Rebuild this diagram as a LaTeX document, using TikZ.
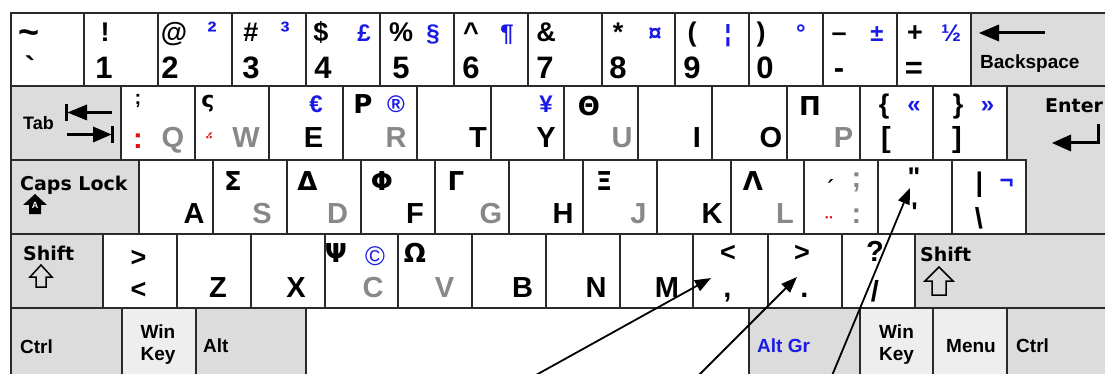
\documentclass[tikz,border=0pt]{standalone}
\usepackage{fontspec}
\setmainfont{Liberation Sans}
\newfontfamily\lbs{Liberation Sans}
\newfontfamily\dvs{DejaVu Sans}
\usetikzlibrary{arrows.meta}
\definecolor{kbgray}{HTML}{888888}
\definecolor{kbblue}{HTML}{1A1AE6}
\definecolor{kbred}{HTML}{E01010}
\definecolor{kfill}{HTML}{DCDCDC}
\definecolor{kfillb}{HTML}{EEEEEE}
\definecolor{kline}{HTML}{2A2A2A}
\newcommand\kb[5]{\draw[keyline,fill=#5] (#1,#2) rectangle (#3,#4);}
\begin{document}
\begin{tikzpicture}[x=1pt,y=-1pt,
 keyline/.style={draw=kline,line width=1.3pt},
 lb/.style={anchor=base,inner sep=0pt,font=\lbs\fontsize{29}{30}\selectfont\bfseries},
 dg/.style={anchor=base,inner sep=0pt,font=\lbs\fontsize{31}{32}\selectfont\bfseries},
 sy/.style={anchor=base,inner sep=0pt,font=\lbs\fontsize{27}{28}\selectfont\bfseries},
 gk/.style={anchor=base,inner sep=0pt,font=\dvs\fontsize{26}{28}\selectfont\bfseries},
 al/.style={anchor=base,inner sep=0pt,text=kbblue,font=\lbs\fontsize{24}{26}\selectfont\bfseries},
 sup/.style={anchor=base,inner sep=0pt,text=kbblue,font=\lbs\fontsize{28}{28}\selectfont\bfseries},
 sm/.style={anchor=base,inner sep=0pt,font=\lbs\fontsize{20}{20}\selectfont\bfseries},
 smg/.style={anchor=base,inner sep=0pt,font=\dvs\fontsize{20}{20}\selectfont\bfseries},
 gy/.style={text=kbgray},
 rd/.style={text=kbred},
 kn/.style={anchor=base west,inner sep=0pt,font=\lbs\fontsize{19}{20}\selectfont\bfseries},
 knc/.style={anchor=base,inner sep=0pt,font=\lbs\fontsize{19}{20}\selectfont\bfseries},
 dn/.style={anchor=base west,inner sep=0pt,font=\dvs\fontsize{19}{20}\selectfont\bfseries},
 pointer/.style={line width=1.8pt,-{Triangle[length=16pt,width=12pt]}},
 bar/.style={line width=3pt},
 outl/.style={line width=1.5pt,line join=miter},
]
\useasboundingbox (0,0) rectangle (1105,374);
\clip (0,0) rectangle (1105,374);
% row 1
\kb{11}{13}{84}{86}{white}\kb{84}{13}{158}{86}{white}\kb{158}{13}{232}{86}{white}
\kb{232}{13}{306}{86}{white}\kb{306}{13}{380}{86}{white}\kb{380}{13}{454}{86}{white}
\kb{454}{13}{528}{86}{white}\kb{528}{13}{602}{86}{white}\kb{602}{13}{675}{86}{white}
\kb{675}{13}{749}{86}{white}\kb{749}{13}{823}{86}{white}\kb{823}{13}{897}{86}{white}
\kb{897}{13}{971}{86}{white}\kb{971}{13}{1120}{86}{kfill}
% row 2
\kb{11}{86}{121}{160}{kfill}\kb{121}{86}{195}{160}{white}\kb{195}{86}{269}{160}{white}
\kb{269}{86}{343}{160}{white}\kb{343}{86}{417}{160}{white}\kb{417}{86}{491}{160}{white}
\kb{491}{86}{564}{160}{white}\kb{564}{86}{638}{160}{white}\kb{638}{86}{712}{160}{white}
\kb{712}{86}{787}{160}{white}\kb{787}{86}{860}{160}{white}\kb{860}{86}{933}{160}{white}
\kb{933}{86}{1007}{160}{white}
% row 3
\kb{11}{160}{139}{234}{kfill}\kb{139}{160}{213}{234}{white}\kb{213}{160}{287}{234}{white}
\kb{287}{160}{361}{234}{white}\kb{361}{160}{435}{234}{white}\kb{435}{160}{509}{234}{white}
\kb{509}{160}{583}{234}{white}\kb{583}{160}{657}{234}{white}\kb{657}{160}{731}{234}{white}
\kb{731}{160}{804}{234}{white}\kb{804}{160}{878}{234}{white}\kb{878}{160}{952}{234}{white}
\kb{952}{160}{1026}{234}{white}
\draw[keyline,fill=kfill] (1007,86) -- (1120,86) -- (1120,234) -- (1026,234) -- (1026,160) -- (1007,160) -- cycle;
% row 4
\kb{11}{234}{103}{308}{kfill}\kb{103}{234}{177}{308}{white}\kb{177}{234}{251}{308}{white}
\kb{251}{234}{325}{308}{white}\kb{325}{234}{398}{308}{white}\kb{398}{234}{472}{308}{white}
\kb{472}{234}{546}{308}{white}\kb{546}{234}{620}{308}{white}\kb{620}{234}{693}{308}{white}
\kb{693}{234}{768}{308}{white}\kb{768}{234}{842}{308}{white}\kb{842}{234}{915}{308}{white}
\kb{915}{234}{1120}{308}{kfill}
% row 5
\kb{11}{308}{122}{390}{kfill}\kb{122}{308}{196}{390}{kfillb}\kb{196}{308}{306}{390}{kfill}
\kb{306}{308}{749}{390}{white}\kb{749}{308}{860}{390}{kfill}\kb{860}{308}{933}{390}{kfillb}
\kb{933}{308}{1007}{390}{kfillb}\kb{1007}{308}{1120}{390}{kfill}

% ---- row 1 labels
\node[sy,font=\lbs\fontsize{36}{36}\selectfont\bfseries] (t0) at (29,45) {\textasciitilde};
\node[dg] (b0) at (30,79) {`};
\node[sy] (t1) at (105,42) {!};
\node[dg] (b1) at (104,79) {1};
\node[sy] (t2) at (174,42) {@};
\node[dg] (b2) at (170,79) {2};
\node[sup] (a2) at (212,42) {²};
\node[sy] (t3) at (251,42) {\#};
\node[dg] (b3) at (251,79) {3};
\node[sup] (a3) at (285,42) {³};
\node[sy] (t4) at (321,42) {\$};
\node[dg] (b4) at (323,79) {4};
\node[al] (a4) at (364,42) {£};
\node[sy] (t5) at (401,42) {\%};
\node[dg] (b5) at (401,79) {5};
\node[al] (a5) at (433,42) {§};
\node[sy] (t6) at (471,42) {\textasciicircum};
\node[dg] (b6) at (471,79) {6};
\node[al] (a6) at (507,42) {¶};
\node[sy] (t7) at (546,42) {\&};
\node[dg] (b7) at (545,79) {7};
\node[sy] (t8) at (618,42) {*};
\node[dg] (b8) at (618,79) {8};
\node[al] (a8) at (655,42) {¤};
\node[sy] (t9) at (692,42) {(};
\node[dg] (b9) at (692,79) {9};
\node[al] (a9) at (728,42) {¦};
\node[sy] (t10) at (761,42) {)};
\node[dg] (b10) at (765,79) {0};
\node[al] (a10) at (801,42) {°};
\node[sy] (t11) at (839,42) {–};
\node[dg] (b11) at (839,79) {-};
\node[al] (a11) at (877,42) {±};
\node[sy] (t12) at (915,42) {+};
\node[dg] (b12) at (914,79) {=};
\node[al] (a12) at (951,42) {½};
\node[kn] (bs) at (980,69) {Backspace};
\fill (979,33) -- (999,24.5) -- (999,41.5) -- cycle;
\draw[bar] (996,33) -- (1045,33);

% ---- row 2 labels
\node[kn,font=\lbs\fontsize{18}{18}\selectfont\bfseries] (tab) at (23,130) {Tab};
\draw[bar] (66,104) -- (66,121);
\fill (67.5,112.5) -- (87,104.5) -- (87,120.5) -- cycle;
\draw[bar] (85,112.5) -- (112,112.5);
\draw[bar] (67,134.5) -- (95,134.5);
\fill (111.5,134.5) -- (93,126.5) -- (93,142.5) -- cycle;
\draw[bar] (112,126) -- (112,143);
\node[sm] (q1) at (138,105) {;};
\node[lb,rd] (q2) at (138,149) {:};
\node[lb,gy] (q3) at (173,148) {Q};
\node[smg,font=\dvs\fontsize{22}{22}\selectfont\bfseries] (w1) at (208,108) {ς};
\node[smg,rd,font=\dvs\fontsize{18}{18}\selectfont\bfseries] (w2) at (209,151) {΅};
\node[lb,gy] (w3) at (246,148) {W};
\node[al] (e1) at (316,113) {€};
\node[lb] (e2) at (313.5,148) {E};
\node[gk] (r1) at (363,114) {Ρ};
\node[al] (r2) at (396,113) {®};
\node[lb,gy] (r3) at (396,148) {R};
\node[lb] (tT) at (478,148) {T};
\node[al] (y1) at (546,113) {¥};
\node[lb] (y2) at (546,148) {Y};
\node[gk] (u1) at (589,116) {Θ};
\node[lb,gy] (u2) at (622,148) {U};
\node[lb] (i1) at (697,148) {I};
\node[lb] (o1) at (771,148) {O};
\node[gk] (p1) at (810,116) {Π};
\node[lb,gy] (p2) at (843.5,148) {P};
\node[sy] (lbr1) at (884,114) {\{};
\node[al] (lbr2) at (914,113) {«};
\node[lb] (lbr3) at (886,148) {[};
\node[sy] (rbr1) at (958,114) {\}};
\node[al] (rbr2) at (987.5,113) {»};
\node[lb] (rbr3) at (957,148) {]};
\node[dn] (ent) at (1045,113) {Enter};
\draw[bar] (1098,124) -- (1098,144.5);
\draw[bar] (1099.5,143) -- (1068,143);
\fill (1052,143) -- (1071,134.5) -- (1071,151.5) -- cycle;

% ---- row 3 labels
\node[dn] (caps) at (20,190) {Caps Lock};
\fill (35,194) -- (47,205) -- (41,205) -- (41,214) -- (29,214) -- (29,205) -- (23,205) -- cycle;
\node[anchor=base,inner sep=0pt,text=white,font=\lbs\fontsize{9}{9}\selectfont\bfseries] (capsA) at (35,208) {A};
\node[lb] (aA) at (194,223) {A};
\node[gk] (s1) at (233,191) {Σ};
\node[lb,gy] (s2) at (262,223) {S};
\node[gk] (d1) at (307.5,191) {Δ};
\node[lb,gy] (d2) at (337.5,223) {D};
\node[gk] (f1) at (382,191) {Φ};
\node[lb] (f2) at (415,223) {F};
\node[gk] (g1) at (456,191) {Γ};
\node[lb,gy] (g2) at (491,223) {G};
\node[lb] (hH) at (563,223) {H};
\node[gk] (j1) at (604,191) {Ξ};
\node[lb,gy] (j2) at (638.5,223) {J};
\node[lb] (kK) at (712,223) {K};
\node[gk] (l1) at (753,191) {Λ};
\node[lb,gy] (l2) at (785,223) {L};
\node[smg] (sc1) at (829,196) {΄};
\node[lb,gy] (sc2) at (856.5,188) {;};
\node[sm,rd] (sc3) at (829,230) {¨};
\node[lb,gy] (sc4) at (856.5,223) {:};
\node[sy] (qt1) at (914,187) {"};
\node[sy] (qt2) at (914.5,222) {\textquotesingle};
\node[sy] (bsl1) at (979.5,192) {\textbar};
\node[al] (bsl2) at (1006.5,189) {¬};
\node[lb] (bsl3) at (979,229) {\textbackslash};

% ---- row 4 labels
\node[dn] (shl) at (23,260) {Shift};
\draw[outl] (41,265) -- (52,277) -- (46,277) -- (46,287) -- (36,287) -- (36,277) -- (30,277) -- cycle;
\node[sy] (lt1) at (138.5,266) {\textgreater};
\node[sy] (lt2) at (138.5,298) {\textless};
\node[lb] (zZ) at (218,297) {Z};
\node[lb] (xX) at (296,297) {X};
\node[gk] (c1) at (336,262) {Ψ};
\node[al,font=\lbs\fontsize{27}{27}\selectfont] (c2) at (375,265) {©};
\node[lb,gy] (c3) at (373,297) {C};
\node[gk] (v1) at (415,262) {Ω};
\node[lb,gy] (v2) at (444.5,297) {V};
\node[lb] (bB) at (522.5,297) {B};
\node[lb] (nN) at (596,297) {N};
\node[lb] (mM) at (667,297) {M};
\node[sy] (cm1) at (728,261) {\textless};
\node[lb] (cm2) at (727.5,297) {,};
\node[sy] (pd1) at (802,261) {\textgreater};
\node[lb] (pd2) at (804.5,297) {.};
\node[lb] (sl1) at (875,261) {?};
\node[lb] (sl2) at (875,301) {/};
\node[dn] (shr) at (920,261) {Shift};
\draw[outl] (939,267) -- (953,281) -- (946,281) -- (946,295) -- (932,295) -- (932,281) -- (925,281) -- cycle;

% ---- row 5 labels
\node[kn] (ctl) at (20,353) {Ctrl};
\node[knc] (wk1) at (158,338) {Win};
\node[knc] (wk2) at (158,360) {Key};
\node[kn] (alt) at (203,352) {Alt};
\node[kn,text=kbblue] (altgr) at (757,352) {Alt Gr};
\node[knc] (wk3) at (896.5,338) {Win};
\node[knc] (wk4) at (896.5,360) {Key};
\node[kn] (menu) at (946,352) {Menu};
\node[kn] (ctr) at (1016,352) {Ctrl};

% ---- pointers
\coordinate (ps1) at (509,390); \coordinate (pe1) at (711,278);
\coordinate (ps2) at (684,390); \coordinate (pe2) at (797,277);
\coordinate (ps3) at (826,390); \coordinate (pe3) at (910,188);
\draw[pointer] (ps1) -- (pe1);
\draw[pointer] (ps2) -- (pe2);
\draw[pointer] (ps3) -- (pe3);
\end{tikzpicture}
\end{document}
